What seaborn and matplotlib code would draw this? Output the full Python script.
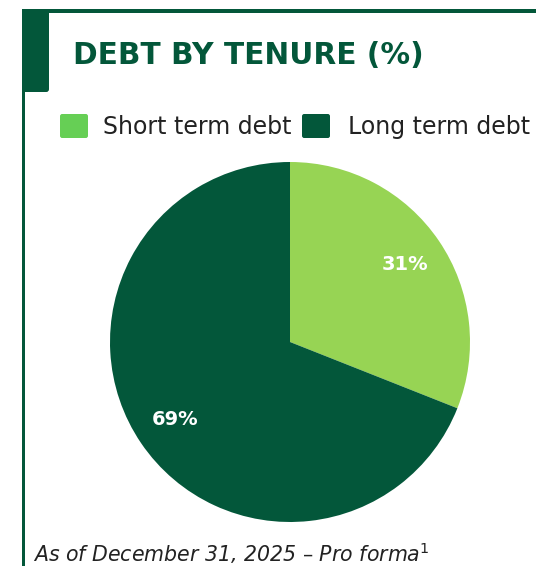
import matplotlib
matplotlib.use("Agg")
import matplotlib.pyplot as plt
import seaborn as sns
from matplotlib.patches import Rectangle, FancyBboxPatch

# Data
categories = ['Short term debt', 'Long term debt']
shares = [31, 69]
pie_colors = ['#97d454', '#03573a']
legend_colors = ['#66cf55', '#03573a']

title = 'DEBT BY TENURE (%)'
footnote = 'As of December 31, 2025 – Pro forma$^{1}$'

sns.set_theme(style='white')
plt.rcParams['font.family'] = ['DejaVu Sans']

W, H = 536, 566
fig = plt.figure(figsize=(W / 100, H / 100), dpi=100)
fig.patch.set_facecolor('white')

dark = '#03573a'

# frame: top line, left line, title tab
fig.add_artist(Rectangle((22 / W, 1 - 13 / H), 1, 4 / H, transform=fig.transFigure,
                         color=dark, lw=0))
fig.add_artist(Rectangle((22 / W, 0), 3 / W, 1 - 9 / H, transform=fig.transFigure,
                         color=dark, lw=0))
fig.add_artist(FancyBboxPatch((22 / W, 1 - 92 / H), 27 / W, 83 / H,
                              boxstyle='round,pad=0,rounding_size=0.005',
                              transform=fig.transFigure, color=dark, lw=0))
fig.add_artist(Rectangle((22 / W, 1 - 60 / H), 10 / W, 51 / H, transform=fig.transFigure,
                         color=dark, lw=0))

fig.text(73 / W, 1 - 56 / H, title, fontsize=21.3, fontweight='bold', color=dark,
         va='center', ha='left')

# legend drawn manually
leg_box = [60, 302]
leg_txt = [103, 348]
for x0, xt, lab, col in zip(leg_box, leg_txt, categories, legend_colors):
    fig.add_artist(FancyBboxPatch((x0 / W, 1 - 138 / H), 28 / W, 24 / H,
                                  boxstyle='round,pad=0,rounding_size=0.004',
                                  transform=fig.transFigure, color=col, lw=0))
    fig.text(xt / W, 1 - 127 / H, lab, fontsize=17, color='#222222',
             va='center', ha='left')

# pie
ax = fig.add_axes([110 / W, 44 / H, 360 / W, 360 / H])
wedges, texts, autotexts = ax.pie(shares, colors=pie_colors, startangle=90, counterclock=False,
                                  autopct='%d%%', pctdistance=0.77, radius=1,
                                  wedgeprops=dict(linewidth=0),
                                  textprops=dict(color='white', fontsize=14, fontweight='bold'))
ax.set_xlim(-1, 1)
ax.set_ylim(-1, 1)
ax.set_aspect('equal')
ax.axis('off')

fig.text(33 / W, 1 - 553 / H, footnote, fontsize=14.8, style='italic', color='#222222',
         va='center', ha='left')

fig.savefig('out.png', dpi=100)
